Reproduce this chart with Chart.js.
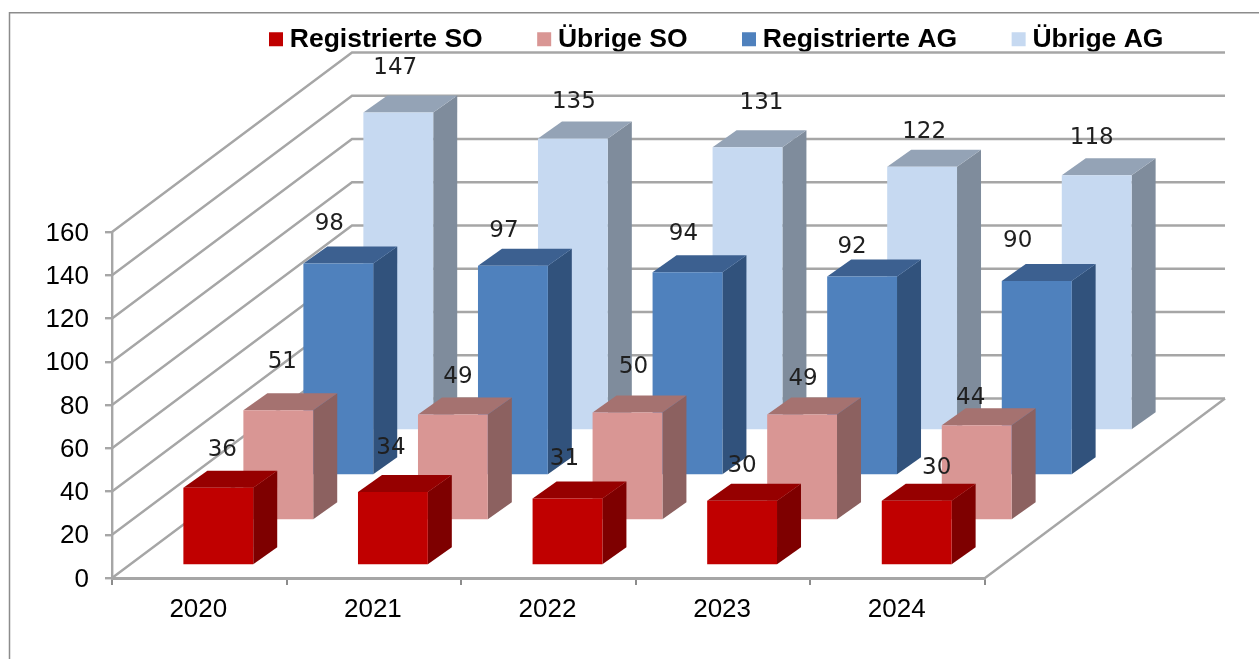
<!DOCTYPE html>
<html>
<head>
<meta charset="utf-8">
<style>html,body{margin:0;padding:0;background:#fff}#w{width:1259px;height:659px}</style>
<script src="https://cdn.jsdelivr.net/npm/chart.js@4/dist/chart.umd.js"></script>
</head>
<body>
<div id="w"><canvas id="c" width="1259" height="659"></canvas></div>
<script>
const categories = ["2020", "2021", "2022", "2023", "2024"];
const seriesNames = ["Registrierte SO", "Übrige SO", "Registrierte AG", "Übrige AG"];
const registrierteSO = [36, 34, 31, 30, 30];
const uebrigeSO = [51, 49, 50, 49, 44];
const registrierteAG = [98, 97, 94, 92, 90];
const uebrigeAG = [147, 135, 131, 122, 118];
const yTicks = [0, 20, 40, 60, 80, 100, 120, 140, 160];

const frontColors = ["#C00000", "#D99694", "#4F81BD", "#C6D9F1"];
const topColors = ["#960000", "#A57270", "#3C6090", "#94A3B6"];
const sideColors = ["#7E0000", "#8C6160", "#31527C", "#7F8C9C"];
const GRID = "#A6A6A6";
const WALL = { dx: 240, dy: -179.5 };
const SERIES_STEP = { dx: 60, dy: -45 };
const SERIES_START = { dx: 19, dy: -12.5 };
const BAR_DEPTH = { dx: 24, dy: -17 };
// where each value label sits relative to the top centre of its bar
const labelShift = [
  [[4,-38],[-2,-44],[-3,-39],[0,-35],[20,-33]],
  [[4,-48],[5,-38],[6,-45],[1,-36],[-6,-27]],
  [[-9,-40],[-9,-35],[-4,-38],[-10,-30],[-19,-40]],
  [[-3,-45],[1,-37],[14,-44],[2,-35],[-5,-37]]
];
const offsetOf = i => ({ x: SERIES_START.dx + SERIES_STEP.dx * i, y: SERIES_START.dy + SERIES_STEP.dy * i });

const scene3d = {
  id: "scene3d",
  beforeUpdate(chart) {
    const l = chart.legend;
    if (l && !l._wrapped) {
      const fit = l.fit.bind(l);
      l.fit = () => { fit(); l.height = 232; };
      l._wrapped = true;
    }
  },
  afterLayout(chart) {
    const l = chart.legend;
    l.left = 214.5; l.right = 1259; l.top = -35;
  },
  beforeDraw(chart) {
    const c = chart.ctx;
    c.save();
    c.strokeStyle = "#8C8C8C"; c.lineWidth = 1.5;
    c.beginPath(); c.moveTo(9.5, 659); c.lineTo(9.5, 12.75); c.lineTo(1259, 12.75); c.stroke();
    c.restore();
  },
  beforeDatasetsDraw(chart) {
    const c = chart.ctx, y = chart.scales.y, a = chart.chartArea;
    c.save();
    c.strokeStyle = GRID; c.lineWidth = 2.4; c.lineJoin = "miter";
    yTicks.forEach(t => {
      const py = y.getPixelForValue(t);
      c.beginPath();
      c.moveTo(a.left, py);
      c.lineTo(a.left + WALL.dx, py + WALL.dy);
      c.lineTo(a.right + WALL.dx, py + WALL.dy);
      c.stroke();
    });
    const b = y.getPixelForValue(0);
    c.beginPath();
    c.moveTo(a.right, b);
    c.lineTo(a.right + WALL.dx, b + WALL.dy);
    c.stroke();
    c.restore();
  },
  beforeDatasetDraw(chart, args) {
    const c = chart.ctx, i = args.index, o = offsetOf(i);
    c.save();
    c.translate(o.x, o.y);
    args.meta.data.forEach(bar => {
      const L = bar.x - bar.width / 2, R = bar.x + bar.width / 2, T = bar.y, B = bar.base;
      const dx = BAR_DEPTH.dx, dy = BAR_DEPTH.dy;
      c.fillStyle = sideColors[i];
      c.beginPath();
      c.moveTo(R, T); c.lineTo(R + dx, T + dy); c.lineTo(R + dx, B + dy); c.lineTo(R, B);
      c.closePath(); c.fill();
      c.fillStyle = topColors[i];
      c.beginPath();
      c.moveTo(L, T); c.lineTo(L + dx, T + dy); c.lineTo(R + dx, T + dy); c.lineTo(R, T);
      c.closePath(); c.fill();
    });
  },
  afterDatasetDraw(chart) { chart.ctx.restore(); },
  afterDatasetsDraw(chart) {
    const c = chart.ctx;
    c.save();
    c.font = "23px 'DejaVu Sans'";
    c.fillStyle = "#1F1F1F";
    c.textAlign = "center";
    c.textBaseline = "middle";
    chart.data.datasets.forEach((ds, i) => {
      const o = offsetOf(i);
      chart.getDatasetMeta(i).data.forEach((bar, j) => {
        const s = labelShift[i][j];
        c.fillText(String(ds.data[j]), bar.x + o.x + s[0], bar.y + o.y + s[1]);
      });
    });
    c.restore();
  }
};

const seriesValues = [registrierteSO, uebrigeSO, registrierteAG, uebrigeAG];
new Chart(document.getElementById("c"), {
  type: "bar",
  data: {
    labels: categories,
    datasets: seriesNames.map((name, i) => ({
      label: name,
      data: seriesValues[i],
      backgroundColor: frontColors[i],
      borderWidth: 0,
      clip: false,
      grouped: false,
      barPercentage: 0.4,
      categoryPercentage: 1
    }))
  },
  options: {
    responsive: false,
    animation: false,
    devicePixelRatio: 1,
    layout: { autoPadding: false, padding: { left: 0, right: 274, top: 0, bottom: 0 } },
    plugins: {
      tooltip: { enabled: false },
      legend: {
        position: "top",
        align: "start",
        labels: {
          usePointStyle: true,
          pointStyle: "rect",
          boxWidth: 1,
          boxHeight: 14,
          padding: 61,
          color: "#000",
          font: { family: "'Liberation Sans'", size: 26.5, weight: "bold" }
        }
      }
    },
    scales: {
      x: {
        afterFit: s => { s.height = 81; },
        grid: { drawOnChartArea: false, drawTicks: true, tickLength: 7, color: "#8C8C8C", lineWidth: 2 },
        border: { display: true, color: GRID, width: 3 },
        ticks: { color: "#000", padding: 9, labelOffset: -1, font: { family: "'Liberation Sans'", size: 26 } }
      },
      y: {
        min: 0, max: 160,
        afterFit: s => { s.width = 112; },
        afterBuildTicks: s => { s.ticks = yTicks.map(v => ({ value: v })); },
        grid: { drawOnChartArea: false, drawTicks: true, tickLength: 7, color: GRID, lineWidth: 2.4 },
        border: { display: true, color: GRID, width: 2.4 },
        ticks: { color: "#000", padding: 16, labelOffset: 1.5, font: { family: "'Liberation Sans'", size: 26 } }
      }
    }
  },
  plugins: [scene3d]
});
</script>
</body>
</html>
